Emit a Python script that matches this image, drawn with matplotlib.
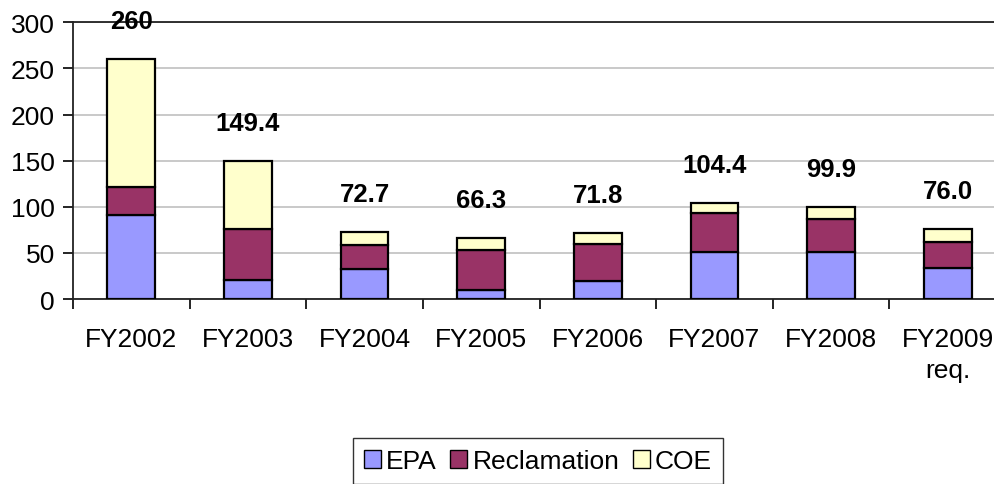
import matplotlib
matplotlib.use("Agg")
import matplotlib.pyplot as plt
import numpy as np

plt.rcParams['font.family'] = ['Liberation Sans', 'DejaVu Sans']

categories = ["FY2002", "FY2003", "FY2004", "FY2005", "FY2006", "FY2007", "FY2008", "FY2009\nreq."]
epa = [91, 21, 32, 10, 19, 51, 51, 34]
reclamation = [30, 55, 27, 43.5, 41, 42, 35.5, 28]
coe = [139, 73.4, 13.7, 12.8, 11.8, 11.4, 13.4, 14]
totals = ["260", "149.4", "72.7", "66.3", "71.8", "104.4", "99.9", "76.0"]
yticks = [0, 50, 100, 150, 200, 250, 300]

FS = 19
fig = plt.figure(figsize=(9.95, 4.85), dpi=100)
ax = fig.add_axes([73/995, 185/485, 933/995, 276.7/485])

x = np.arange(len(categories))
w = 0.41
ep = np.array(epa); rc = np.array(reclamation); co = np.array(coe)
kw = dict(width=w, edgecolor='black', linewidth=1.6, zorder=3)
ax.bar(x, ep, color='#9999FF', label='EPA', **kw)
ax.bar(x, rc, bottom=ep, color='#993366', label='Reclamation', **kw)
ax.bar(x, co, bottom=ep + rc, color='#FFFFCC', label='COE', **kw)

for xi, s in zip(x, totals):
    ax.text(xi, float(s) + 41, s, ha='center', va='center', fontsize=18.5,
            fontweight='bold', zorder=4)

ax.set_xlim(-0.5, len(categories) - 0.5)
ax.set_ylim(0, 300)
ax.set_yticks(yticks)
ax.set_yticklabels([str(v) for v in yticks], fontsize=FS)
ax.yaxis.grid(True, color='#c0c0c0', linewidth=1.2, zorder=0)
ax.set_axisbelow(True)

ax.set_xticks(np.arange(len(categories) + 1) - 0.5)
ax.set_xticklabels([])
ax.set_xticks(x, minor=True)
ax.set_xticklabels(categories, minor=True, fontsize=FS, linespacing=1.4)
ax.tick_params(axis='x', which='minor', length=0, pad=20)
ax.tick_params(axis='x', which='major', length=7, width=1.2, direction='out')
ax.tick_params(axis='y', length=7, width=1.2, direction='out', pad=6)

for s in ['left', 'bottom', 'top']:
    ax.spines[s].set_color('#222222')
    ax.spines[s].set_linewidth(1.3)
ax.spines['right'].set_visible(False)

leg = fig.legend(loc='center', bbox_to_anchor=(538/995, 1 - 462/485), ncol=3,
                 fontsize=FS, frameon=True, fancybox=False, edgecolor='black',
                 handlelength=0.65, handleheight=0.65, handletextpad=0.2,
                 columnspacing=0.5, borderpad=0.4)
leg.get_frame().set_linewidth(1.0)
for h in leg.legend_handles:
    h.set_linewidth(1.0)

fig.savefig('out.png', dpi=100)
